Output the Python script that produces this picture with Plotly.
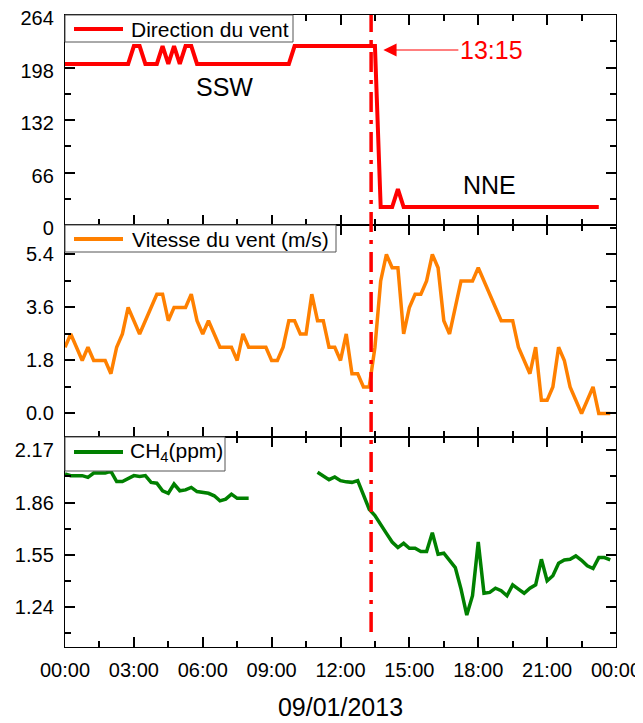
import pandas as pd
import plotly.graph_objects as go
from plotly.subplots import make_subplots

# ---------------- data ----------------
start = "2013-01-09 00:00"
times = pd.date_range(start, periods=96, freq="15min").strftime("%Y-%m-%d %H:%M").tolist()

# wind direction (degrees), 00:00 -> 23:15 every 15 min
direction = [202.5] * 12 + [225, 225] + [202.5] * 3 + [225, 202.5, 225, 202.5, 225, 225] \
    + [202.5] * 17 + [225] * 15 + [22.5] * 3 + [45] + [22.5] * 35

# wind speed (m/s), 00:00 -> 23:45 every 15 min
speed = [2.25, 2.7, 2.25, 1.8, 2.25, 1.8, 1.8, 1.8, 1.35, 2.25,
         2.7, 3.6, 3.15, 2.7, 3.15, 3.6, 4.05, 4.05, 3.15, 3.6,
         3.6, 3.6, 4.05, 3.15, 2.7, 3.15, 2.7, 2.25, 2.25, 2.25,
         1.8, 2.7, 2.25, 2.25, 2.25, 2.25, 1.8, 1.8, 2.25, 3.15,
         3.15, 2.7, 2.7, 4.05, 3.15, 3.15, 2.25, 2.25, 1.8, 2.7,
         1.35, 1.35, 0.9, 0.9, 2.25, 4.5, 5.4, 4.95, 4.95, 2.7,
         3.6, 4.05, 4.05, 4.5, 5.4, 4.95, 3.15, 2.7, 3.6, 4.5,
         4.5, 4.5, 4.95, 4.5, 4.05, 3.6, 3.15, 3.15, 3.15, 2.25,
         1.8, 1.35, 2.25, 0.45, 0.45, 0.9, 2.25, 1.8, 0.9, 0.45,
         0.0, 0.45, 0.9, 0.0, 0.0, 0.0]

# CH4 (ppm), 00:00 -> 23:45 every 15 min (gap = missing)
ch4 = [2.03, 2.02, 2.02, 2.02, 2.01, 2.035, 2.035, 2.035, 2.045, 1.985,
       1.985, 2.005, 2.02, 2.015, 2.02, 1.98, 1.975, 1.93, 1.915, 1.97,
       1.93, 1.935, 1.95, 1.925, 1.92, 1.915, 1.90, 1.87, 1.88, 1.91,
       1.885, 1.885, 1.885] + [None] * 11 + \
      [2.04, 2.016, 1.996, 2.012, 1.99, 1.983, 1.98, 1.99, 1.90, 1.82,
       1.783, 1.734, 1.676, 1.625, 1.592, 1.617, 1.588, 1.588, 1.568, 1.568,
       1.68, 1.552, 1.558, 1.516, 1.473, 1.345, 1.19, 1.305, 1.625, 1.32,
       1.325, 1.35, 1.335, 1.305, 1.37, 1.345, 1.32, 1.35, 1.37, 1.522,
       1.394, 1.424, 1.499, 1.518, 1.522, 1.542, 1.516, 1.483, 1.467, 1.532,
       1.532, 1.518]

series_names = ["Direction du vent", "Vitesse du vent (m/s)", "CH<sub>4</sub>(ppm)"]
colors = ["#ff0000", "#ff8000", "#008000"]
change_time = "2013-01-09 13:20"
change_label = "13:15"
date_label = "09/01/2013"

# ---------------- figure ----------------
# the page body has an 8px margin, so the figure is drawn 8px in from the corner
W, H = 635, 715
ML, MR, MT, MB = 57, 27, 7, 76
PW, PH = W - ML - MR, H - MT - MB
PLOT_L, PLOT_B = 65, 647  # page pixel position of plot area left / bottom


def px(x):
    return (x - PLOT_L) / PW


def py(y):
    return (PLOT_B - y) / PH


fig = make_subplots(rows=3, cols=1, shared_xaxes=True, vertical_spacing=0)

fig.add_trace(go.Scatter(x=times[:len(direction)], y=direction, mode="lines",
                         line=dict(color=colors[0], width=4), name=series_names[0],
                         showlegend=False), row=1, col=1)
fig.add_trace(go.Scatter(x=times[:len(speed)], y=speed, mode="lines",
                         line=dict(color=colors[1], width=3.5), name=series_names[1],
                         showlegend=False), row=2, col=1)
fig.add_trace(go.Scatter(x=times[:len(ch4)], y=ch4, mode="lines", connectgaps=False,
                         line=dict(color=colors[2], width=3.5), name=series_names[2],
                         showlegend=False), row=3, col=1)

FONT = "Arial, Liberation Sans, sans-serif"
common = dict(showline=True, linecolor="black", linewidth=1.4, mirror="ticks",
              ticks="inside", ticklen=10, tickwidth=2, tickcolor="black",
              showgrid=False, zeroline=False, automargin=False,
              ticklabeloverflow="allow",
              tickfont=dict(family=FONT, size=20, color="black"))
minor = dict(ticks="inside", ticklen=6, tickwidth=2, tickcolor="black", showgrid=False)

for r in (1, 2, 3):
    fig.update_xaxes(row=r, col=1, type="date",
                     range=["2013-01-09 00:00", "2013-01-10 00:00"],
                     dtick=3 * 3600 * 1000, tick0="2013-01-09 00:00",
                     tickformat="%H:%M", minor=dict(dtick=1.5 * 3600 * 1000, **minor),
                     ticklabelstandoff=5, **common)
fig.update_xaxes(row=3, col=1, title=dict(text=date_label, standoff=18,
                                          font=dict(family=FONT, size=25, color="black")))

fig.update_yaxes(row=1, col=1, range=[0, 264], tick0=0, dtick=66,
                 minor=dict(dtick=33, **minor), domain=[py(225), 1],
                 ticklabelstandoff=6, ticklabelshift=3, **common)
fig.update_yaxes(row=2, col=1, range=[-0.8, 6.4], tick0=0, dtick=1.8, tickformat=".1f",
                 minor=dict(tick0=0, dtick=0.9, **minor), domain=[py(437), py(225)],
                 ticklabelstandoff=6, **common)
fig.update_yaxes(row=3, col=1, range=[1.0, 2.25], tick0=1.24, dtick=0.31, tickformat=".2f",
                 minor=dict(tick0=1.24, dtick=0.155, **minor), domain=[0, py(437)],
                 ticklabelstandoff=6, **common)

# vertical change marker
fig.add_shape(type="line", xref="x", yref="paper", x0=change_time, x1=change_time,
              y0=py(632), y1=1, line=dict(color="#ff0000", width=3.5, dash="20px,8px,4px,8px"),
              layer="above")

# legend boxes (one per panel)
legend_boxes = [(293, 15, 42, 29, 129), (336, 225, 252, 239, 130), (225, 437, 471, 452, 128)]
for (x1b, y0b, y1b, yl, xt), name, col in zip(legend_boxes, series_names, colors):
    fig.add_shape(type="rect", xref="paper", yref="paper", x0=px(65), x1=px(x1b),
                  y0=py(y1b), y1=py(y0b), line=dict(color="#555555", width=1),
                  fillcolor="white", layer="above")
    fig.add_shape(type="line", xref="paper", yref="paper", x0=px(74), x1=px(123),
                  y0=py(yl), y1=py(yl), line=dict(color=col, width=4), layer="above")
    fig.add_annotation(xref="paper", yref="paper", x=px(xt), y=py(yl), text=name,
                       showarrow=False, xanchor="left", yanchor="middle",
                       font=dict(family=FONT, size=21, color="black"))

# text labels
fig.add_annotation(xref="x", yref="y", x="2013-01-09 06:58", y=173, text="SSW",
                   showarrow=False, font=dict(family=FONT, size=25, color="black"))
fig.add_annotation(xref="x", yref="y", x="2013-01-09 18:30", y=50, text="NNE",
                   showarrow=False, font=dict(family=FONT, size=25, color="black"))
fig.add_annotation(xref="x", yref="y", x="2013-01-09 13:52", y=220, text=change_label,
                   showarrow=True, ax=108, ay=0, arrowhead=2, arrowsize=2.2,
                   arrowwidth=1.2, arrowcolor="#ff0000", standoff=0,
                   font=dict(family=FONT, size=25, color="#ff0000"))

fig.update_layout(width=W, height=H, margin=dict(l=ML, r=MR, t=MT, b=MB, autoexpand=False),
                  plot_bgcolor="white", paper_bgcolor="white", showlegend=False)

fig.write_html("out.html")
